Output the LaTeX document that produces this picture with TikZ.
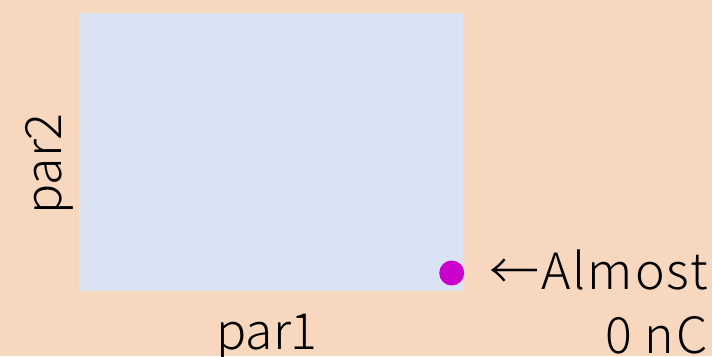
\documentclass[tikz,border=0pt]{standalone}
\usepackage{fontspec}
\setmainfont{Noto Sans CJK JP}[UprightFont=* Light, LetterSpace=4]
\definecolor{peach}{HTML}{F8D7BF}
\definecolor{paleblue}{HTML}{DAE3F3}
\definecolor{dotmag}{HTML}{CC00CC}
\begin{document}
\begin{tikzpicture}[x=1pt,y=-1pt,
  lbl/.style={inner sep=0pt, font=\fontsize{50}{56}\selectfont},
  axislbl/.style={lbl, font=\fontsize{50}{56}\selectfont\addfontfeatures{LetterSpace=0}}]
\fill[peach] (0,0) rectangle (712,356);
\useasboundingbox (0,0) rectangle (712,356);
% parameter region
\fill[paleblue] (79,13) rectangle (463,291);
% marked point
\node[circle, fill=dotmag, minimum size=25pt, inner sep=0pt] (pt) at (451.7,273) {};
% axis labels
\node[axislbl, anchor=base] (p1) at (267,349) {par1};
\node[axislbl, anchor=base, rotate=90] (p2) at (61,164) {par2};
% annotation
\node[lbl, anchor=base east] (ann1) at (708,289) {←Almost};
\node[lbl, anchor=base east] (ann2) at (708,353) {0 nC};
\end{tikzpicture}
\end{document}
